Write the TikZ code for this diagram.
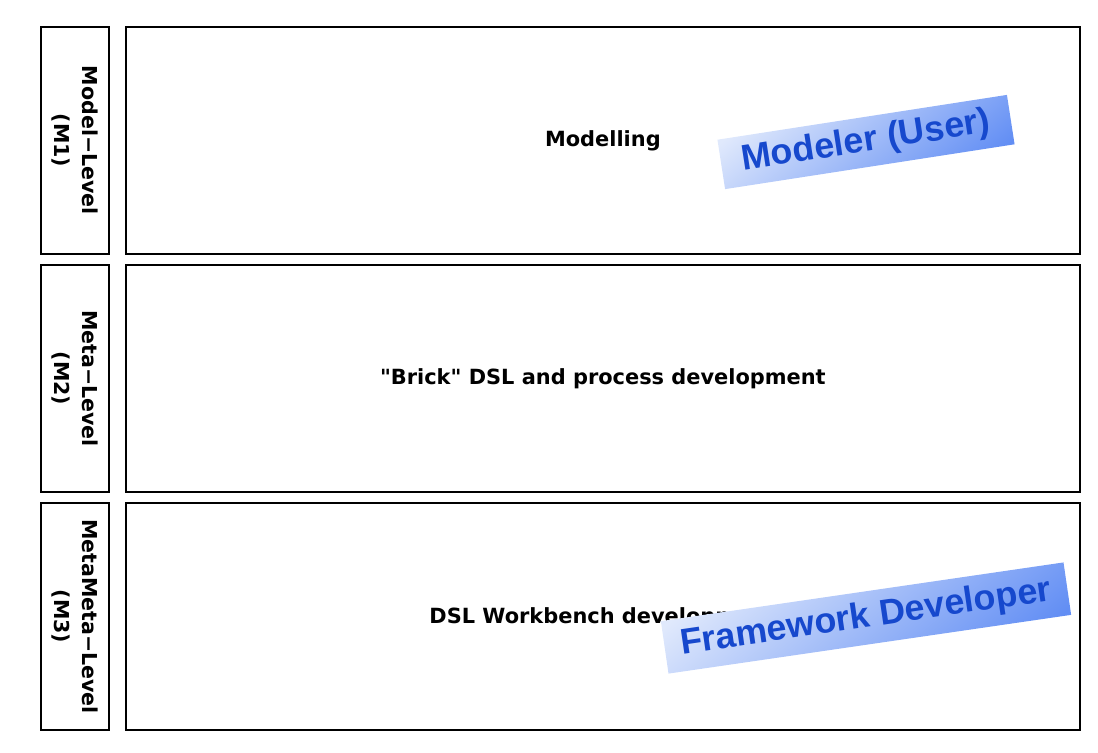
\documentclass[tikz,border=0pt]{standalone}
\usepackage{fontspec}
\setmainfont{DejaVu Sans}
\newfontfamily\labelfont{DejaVu Sans}
\newfontfamily\bannerfont{Liberation Sans}
\usepackage{tikz}
\usetikzlibrary{positioning}
\definecolor{bannertext}{RGB}{22,72,205}
\definecolor{bannerlight}{RGB}{224,233,252}
\definecolor{bannerdark}{RGB}{98,142,244}

\tikzset{
	levelbox/.style={draw, line width=1.1pt, anchor=north west, inner sep=0pt, minimum height=4.54cm},
	sidebox/.style={levelbox, minimum width=1.36cm},
	mainbox/.style={levelbox, minimum width=19.08cm},
	sidelabel/.style={rotate=-90, align=center, font=\labelfont\bfseries\fontsize{11.7}{16}\selectfont},
	mainlabel/.style={font=\labelfont\bfseries\fontsize{11.9}{15}\selectfont},
	banner/.style={top color=bannerlight, bottom color=bannerdark, shading angle=40, text=bannertext,
		font=\bannerfont\bfseries\fontsize{20.4}{25}\selectfont, inner sep=0pt}
}

\begin{document}
\begin{tikzpicture}[x=0.02cm, y=-0.02cm]
			\useasboundingbox (0,0) rectangle (1098,752);
			%\draw [help lines] (0,0) grid (1098,752);
			\node [sidebox] (sideA) at (40,26) {};
			\node [sidebox] (sideB) at (40,264) {};
			\node [sidebox] (sideC) at (40,502) {};
			\node [mainbox] (mainA) at (125,26) {};
			\node [mainbox] (mainB) at (125,264) {};
			\node [mainbox] (mainC) at (125,502) {};
			\node [sidelabel] (lblA) at (sideA.center) {Model−Level\\(M1)};
			\node [sidelabel] (lblB) at (sideB.center) {Meta−Level\\(M2)};
			\node [sidelabel] (lblC) at (sideC.center) {MetaMeta−Level\\(M3)};
			\node [mainlabel] (txtA) at (mainA.center) {Modelling};
			\node [mainlabel] (txtB) at (mainB.center) {"Brick" DSL and process development};
			\node [mainlabel] (txtC) at ([yshift=-0.03cm]mainC.center) {DSL Workbench development};
			% role banners
			\node [banner, rotate=8.8, minimum width=5.86cm, minimum height=1cm] (user) at (866,142) {Modeler (User)};
			\node [banner, rotate=8.3, minimum width=8.14cm, minimum height=1.06cm] (framework) at (866,618) {Framework Developer};
	\end{tikzpicture}
\end{document}
